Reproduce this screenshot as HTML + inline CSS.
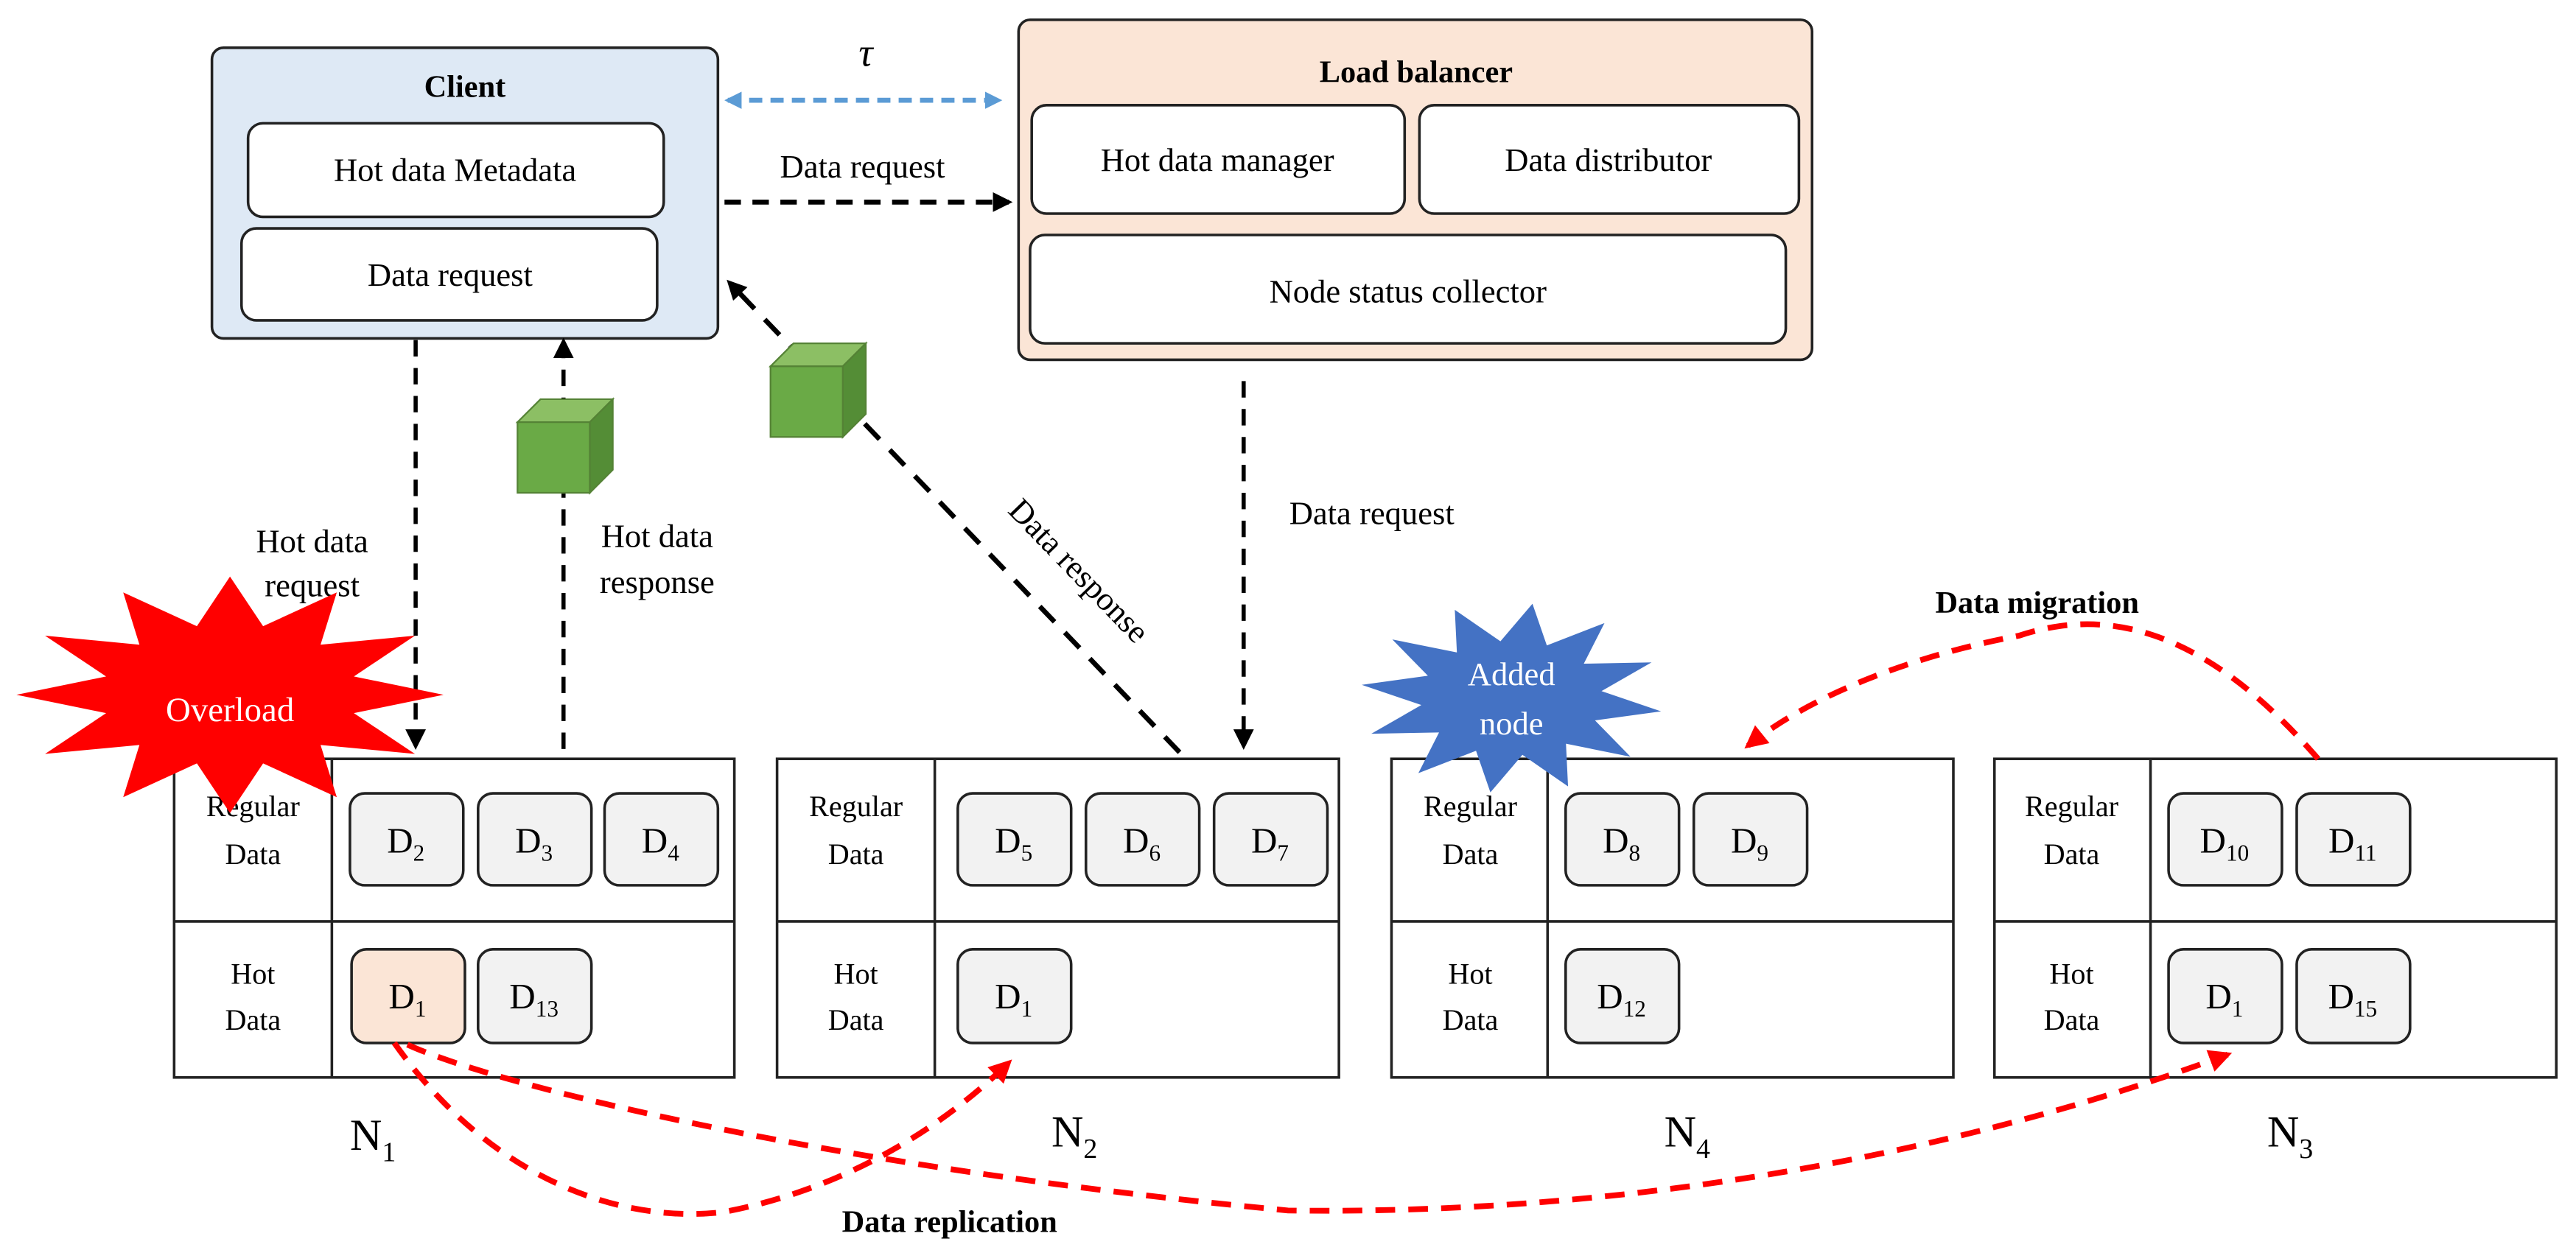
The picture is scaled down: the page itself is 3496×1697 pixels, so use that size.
<!DOCTYPE html>
<html><head><meta charset="utf-8"><style>
html,body{margin:0;padding:0;background:#fff;}
svg{display:block;}
svg, svg text{font-family:"Liberation Serif","Times New Roman",serif;}
</style></head><body>
<svg width="3496" height="1697" viewBox="0 0 1568 761" xmlns="http://www.w3.org/2000/svg" font-family="Liberation Serif, serif">
<defs>
<marker id="ab" viewBox="0 0 10 10" refX="8" refY="5" markerWidth="4" markerHeight="4" orient="auto-start-reverse" markerUnits="strokeWidth"><path d="M0,0 L10,5 L0,10 z" fill="#000"/></marker>
<marker id="ab2" viewBox="0 0 10 10" refX="8" refY="5" markerWidth="5" markerHeight="5" orient="auto-start-reverse" markerUnits="strokeWidth"><path d="M0,0 L10,5 L0,10 z" fill="#000"/></marker>
<marker id="ar" viewBox="0 0 10 10" refX="8" refY="5" markerWidth="4" markerHeight="4" orient="auto-start-reverse" markerUnits="strokeWidth"><path d="M0,0 L10,5 L0,10 z" fill="#ff0000"/></marker>
<marker id="abl" viewBox="0 0 10 10" refX="8" refY="5" markerWidth="3.5" markerHeight="3.5" orient="auto-start-reverse" markerUnits="strokeWidth"><path d="M0,0 L10,5 L0,10 z" fill="#5b9bd5"/></marker>
</defs>

<!-- Client -->
<rect x="129" y="29" width="308" height="177" rx="7" fill="#dee9f5" stroke="#222" stroke-width="1.6"/>
<text x="283" y="59" font-size="19" font-weight="bold" text-anchor="middle">Client</text>
<rect x="151" y="75" width="253" height="57" rx="9" fill="#fff" stroke="#222" stroke-width="1.6"/>
<text x="277" y="110" font-size="20" text-anchor="middle">Hot data Metadata</text>
<rect x="147" y="139" width="253" height="56" rx="9" fill="#fff" stroke="#222" stroke-width="1.6"/>
<text x="274" y="174" font-size="20" text-anchor="middle">Data request</text>

<!-- Load balancer -->
<rect x="620" y="12" width="483" height="207" rx="7" fill="#fbe5d6" stroke="#222" stroke-width="1.6"/>
<text x="862" y="50" font-size="19" font-weight="bold" text-anchor="middle">Load balancer</text>
<rect x="628" y="64" width="227" height="66" rx="9" fill="#fff" stroke="#222" stroke-width="1.6"/>
<text x="741" y="104" font-size="20" text-anchor="middle">Hot data manager</text>
<rect x="864" y="64" width="231" height="66" rx="9" fill="#fff" stroke="#222" stroke-width="1.6"/>
<text x="979" y="104" font-size="20" text-anchor="middle">Data distributor</text>
<rect x="627" y="143" width="460" height="66" rx="9" fill="#fff" stroke="#222" stroke-width="1.6"/>
<text x="857" y="184" font-size="20" text-anchor="middle">Node status collector</text>

<!-- tau & arrows top -->
<text x="527" y="40" font-size="24" font-style="italic" text-anchor="middle">τ</text>
<line x1="443" y1="61" x2="608" y2="61" stroke="#5b9bd5" stroke-width="3" stroke-dasharray="8,5" marker-start="url(#abl)" marker-end="url(#abl)"/>
<text x="525" y="108" font-size="20" text-anchor="middle">Data request</text>
<line x1="441" y1="123" x2="614" y2="123" stroke="#000" stroke-width="3" stroke-dasharray="10,7" marker-end="url(#ab)"/>

<!-- vertical arrows -->
<line x1="253" y1="207" x2="253" y2="454" stroke="#000" stroke-width="2.5" stroke-dasharray="10,7" marker-end="url(#ab2)"/>
<line x1="343" y1="456" x2="343" y2="208" stroke="#000" stroke-width="2.5" stroke-dasharray="10,7" marker-end="url(#ab2)"/>
<line x1="757" y1="232" x2="757" y2="454" stroke="#000" stroke-width="2.5" stroke-dasharray="10,7" marker-end="url(#ab2)"/>
<line x1="718" y1="458" x2="444" y2="172" stroke="#000" stroke-width="3" stroke-dasharray="13,9" marker-end="url(#ab)"/>

<text x="190" y="336" font-size="20" text-anchor="middle">Hot data</text>
<text x="190" y="363" font-size="20" text-anchor="middle">request</text>
<text x="400" y="333" font-size="20" text-anchor="middle">Hot data</text>
<text x="400" y="361" font-size="20" text-anchor="middle">response</text>
<text x="835" y="319" font-size="20" text-anchor="middle">Data request</text>
<text transform="translate(652,352) rotate(46)" font-size="20" text-anchor="middle">Data response</text>
<text x="1240" y="373" font-size="19" font-weight="bold" text-anchor="middle">Data migration</text>
<text x="578" y="750" font-size="19" font-weight="bold" text-anchor="middle">Data replication</text>

<!-- cubes -->
<g stroke="#548235" stroke-width="1">
<polygon points="315,257 329,243 373,243 359,257" fill="#8cbf64"/>
<polygon points="359,257 373,243 373,286 359,300" fill="#548d36"/>
<rect x="315" y="257" width="44" height="43" fill="#6aaa46"/>
<polygon points="469,223 483,209 527,209 513,223" fill="#8cbf64"/>
<polygon points="513,223 527,209 527,252 513,266" fill="#548d36"/>
<rect x="469" y="223" width="44" height="43" fill="#6aaa46"/>
</g>

<!-- tables -->
<g stroke="#222" stroke-width="1.6" fill="none">
<rect x="106" y="462" width="341" height="194"/><line x1="202" y1="462" x2="202" y2="656"/><line x1="106" y1="561" x2="447" y2="561"/>
<rect x="473" y="462" width="342" height="194"/><line x1="569" y1="462" x2="569" y2="656"/><line x1="473" y1="561" x2="815" y2="561"/>
<rect x="847" y="462" width="342" height="194"/><line x1="942" y1="462" x2="942" y2="656"/><line x1="847" y1="561" x2="1189" y2="561"/>
<rect x="1214" y="462" width="342" height="194"/><line x1="1309" y1="462" x2="1309" y2="656"/><line x1="1214" y1="561" x2="1556" y2="561"/>
</g>
<g font-size="18" text-anchor="middle">
<text x="154" y="497">Regular</text><text x="154" y="526">Data</text>
<text x="154" y="599">Hot</text><text x="154" y="627">Data</text>
<text x="521" y="497">Regular</text><text x="521" y="526">Data</text>
<text x="521" y="599">Hot</text><text x="521" y="627">Data</text>
<text x="895" y="497">Regular</text><text x="895" y="526">Data</text>
<text x="895" y="599">Hot</text><text x="895" y="627">Data</text>
<text x="1261" y="497">Regular</text><text x="1261" y="526">Data</text>
<text x="1261" y="599">Hot</text><text x="1261" y="627">Data</text>
</g>
<g stroke="#222" stroke-width="1.6" fill="#f2f2f2">
<rect x="213" y="483" width="69" height="56" rx="9"/><rect x="291" y="483" width="69" height="56" rx="9"/><rect x="368" y="483" width="69" height="56" rx="9"/>
<rect x="214" y="578" width="69" height="57" rx="9" fill="#fbe5d6"/><rect x="291" y="578" width="69" height="57" rx="9"/>
<rect x="583" y="483" width="69" height="56" rx="9"/><rect x="661" y="483" width="69" height="56" rx="9"/><rect x="739" y="483" width="69" height="56" rx="9"/>
<rect x="583" y="578" width="69" height="57" rx="9"/>
<rect x="953" y="483" width="69" height="56" rx="9"/><rect x="1031" y="483" width="69" height="56" rx="9"/>
<rect x="953" y="578" width="69" height="57" rx="9"/>
<rect x="1320" y="483" width="69" height="56" rx="9"/><rect x="1398" y="483" width="69" height="56" rx="9"/>
<rect x="1320" y="578" width="69" height="57" rx="9"/><rect x="1398" y="578" width="69" height="57" rx="9"/>
</g>
<g font-size="22" text-anchor="middle">
<text x="247" y="519">D<tspan font-size="14" dy="5">2</tspan></text>
<text x="325" y="519">D<tspan font-size="14" dy="5">3</tspan></text>
<text x="402" y="519">D<tspan font-size="14" dy="5">4</tspan></text>
<text x="248" y="614">D<tspan font-size="14" dy="5">1</tspan></text>
<text x="325" y="614">D<tspan font-size="14" dy="5">13</tspan></text>
<text x="617" y="519">D<tspan font-size="14" dy="5">5</tspan></text>
<text x="695" y="519">D<tspan font-size="14" dy="5">6</tspan></text>
<text x="773" y="519">D<tspan font-size="14" dy="5">7</tspan></text>
<text x="617" y="614">D<tspan font-size="14" dy="5">1</tspan></text>
<text x="987" y="519">D<tspan font-size="14" dy="5">8</tspan></text>
<text x="1065" y="519">D<tspan font-size="14" dy="5">9</tspan></text>
<text x="987" y="614">D<tspan font-size="14" dy="5">12</tspan></text>
<text x="1354" y="519">D<tspan font-size="14" dy="5">10</tspan></text>
<text x="1432" y="519">D<tspan font-size="14" dy="5">11</tspan></text>
<text x="1354" y="614">D<tspan font-size="14" dy="5">1</tspan></text>
<text x="1432" y="614">D<tspan font-size="14" dy="5">15</tspan></text>
</g>
<g font-size="27" text-anchor="middle">
<text x="227" y="700">N<tspan font-size="17" dy="7">1</tspan></text>
<text x="654" y="698">N<tspan font-size="17" dy="7">2</tspan></text>
<text x="1027" y="698">N<tspan font-size="17" dy="7">4</tspan></text>
<text x="1394" y="698">N<tspan font-size="17" dy="7">3</tspan></text>
</g>

<!-- stars -->
<polygon transform="translate(140,423) scale(130,72)" fill="#ff0000" points="1,0 .58,.155 .866,.5 .424,.424 .5,.866 .155,.58 0,1 -.155,.58 -.5,.866 -.424,.424 -.866,.5 -.58,.155 -1,0 -.58,-.155 -.866,-.5 -.424,-.424 -.5,-.866 -.155,-.58 0,-1 .155,-.58 .5,-.866 .424,-.424 .866,-.5 .58,-.155"/>
<text x="140" y="439" font-size="21" text-anchor="middle" fill="#fff">Overload</text>
<polygon transform="translate(920,425) scale(92,58) rotate(8)" fill="#4472c4" points="1,0 .58,.155 .866,.5 .424,.424 .5,.866 .155,.58 0,1 -.155,.58 -.5,.866 -.424,.424 -.866,.5 -.58,.155 -1,0 -.58,-.155 -.866,-.5 -.424,-.424 -.5,-.866 -.155,-.58 0,-1 .155,-.58 .5,-.866 .424,-.424 .866,-.5 .58,-.155"/>
<text x="920" y="417" font-size="20" text-anchor="middle" fill="#fff">Added</text>
<text x="920" y="447" font-size="20" text-anchor="middle" fill="#fff">node</text>

<!-- red curves -->
<g fill="none" stroke="#ff0000" stroke-width="3.5" stroke-dasharray="12,8">
<path d="M240,635 C300,720 380,745 440,738 C510,725 570,690 614,647" marker-end="url(#ar)"/>
<path d="M248,636 C300,660 500,710 784,737 C1000,740 1200,700 1356,642" marker-end="url(#ar)"/>
<path d="M1411,462 C1340,380 1280,370 1229,387 C1160,400 1100,425 1064,454" marker-end="url(#ar)"/>
</g>
</svg>
</body></html>
